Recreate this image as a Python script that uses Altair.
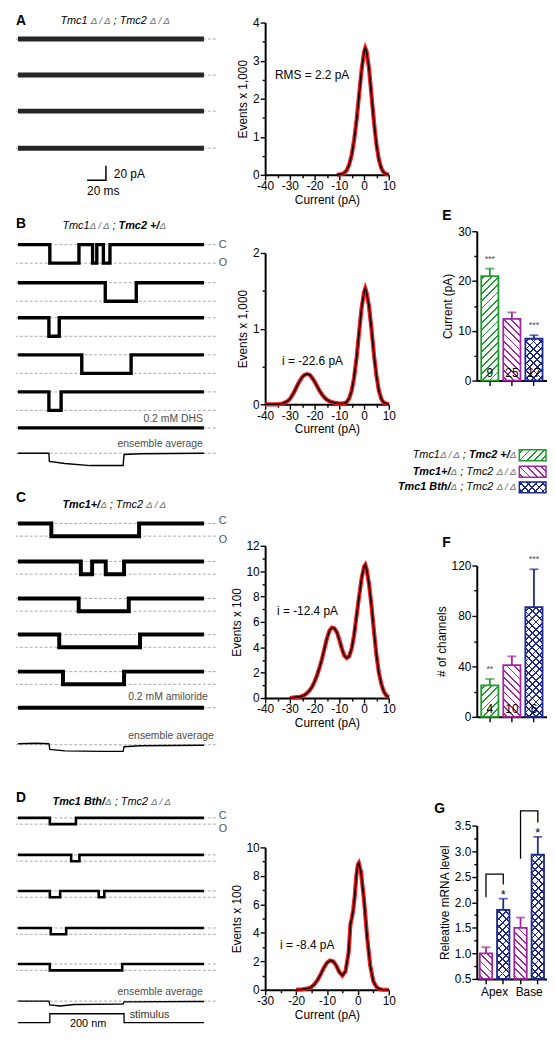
import math
import altair as alt
import pandas as pd

FONT = "Liberation Sans"

# ---------------- data ----------------
# single-channel records: transition times (ms) and current level (pA)
A_T = [[0, 198], [0, 198], [0, 198], [0, 198]]
A_I = [[0, 0], [0, 0], [0, 0], [0, 0]]

B_OPEN = -22.6
B_T = [[0, 34, 65, 79.5, 84, 91, 98, 198], [0, 93, 126, 198], [0, 33, 44, 198],
       [0, 68, 120.5, 198], [0, 33, 46, 198]]
B_I = [[0, -22.6, 0, -22.6, 0, -22.6, 0, 0], [0, -22.6, 0, 0], [0, -22.6, 0, 0],
       [0, -22.6, 0, 0], [0, -22.6, 0, 0]]
B_BLOCK_T = [0, 198]
B_BLOCK_I = [0, 0]
B_ENS_T = [0, 33, 33.5, 50, 77, 112, 113, 130, 198]
B_ENS_I = [0, 0, -10, -12.5, -15, -15, -1.5, -0.5, 0]

C_OPEN = -12.4
C_T = [[0, 35.6, 129, 198], [0, 67, 79, 93.5, 113, 198], [0, 64.7, 118, 198],
       [0, 44, 130, 198], [0, 48, 113, 198]]
C_I = [[0, -12.4, 0, 0], [0, -12.4, 0, -12.4, 0, 0], [0, -12.4, 0, 0],
       [0, -12.4, 0, 0], [0, -12.4, 0, 0]]
C_BLOCK_T = [0, 198]
C_BLOCK_I = [0, 0]
C_ENS_T = [0, 20, 33, 34, 50, 90, 112, 113, 130, 198]
C_ENS_I = [1, 1.5, 1, -4.5, -6, -6.5, -6.5, -2, -1, -0.5]

D_OPEN = -8.4
D_T = [[0, 34, 61.8, 198], [0, 56.7, 65.5, 198], [0, 34, 45, 86, 92, 198],
       [0, 35, 51.4, 198], [0, 34, 111, 198]]
D_I = [[0, -8.4, 0, 0], [0, -8.4, 0, 0], [0, -8.4, 0, -8.4, 0, 0],
       [0, -8.4, 0, 0], [0, -8.4, 0, 0]]
D_ENS_T = [0, 33, 34, 45, 60, 110, 112, 113, 198]
D_ENS_I = [0, 0, -5, -6.5, -4.5, -4, -4, -1, -0.5]

STIM_T = [0, 34, 113, 198]
STIM_NM = [0, 200, 0, 0]
SCALEBAR_T = [73.7, 93.7, 93.7]
SCALEBAR_PA = [0, 0, 20]

# amplitude histograms (current in pA, events)
HA_X = [-11, -10, -9, -8, -7, -6, -5, -4, -3, -2, -1, 0, 0.5, 1, 2, 3, 4, 5, 6, 7, 8, 9, 10]
HA_Y = [0, 0.01, 0.02, 0.05, 0.12, 0.27, 0.52, 0.92, 1.45, 2.1, 2.75, 3.22, 3.33, 3.25,
        2.8, 2.1, 1.4, 0.8, 0.4, 0.17, 0.06, 0.02, 0.01]
HB_X = [-40, -35, -33, -31, -30, -29, -28, -27, -26, -25, -24, -23, -22, -21, -20, -19, -18,
        -17, -16, -15, -14, -13, -12, -11, -10, -9, -8, -7, -6, -5, -4, -3, -2, -1, 0, 0.5,
        1, 2, 3, 4, 5, 6, 7, 8, 9, 10]
HB_Y = [0, 0, 0.01, 0.04, 0.07, 0.12, 0.18, 0.25, 0.31, 0.36, 0.39, 0.40, 0.39, 0.35, 0.30,
        0.24, 0.18, 0.13, 0.09, 0.06, 0.04, 0.03, 0.02, 0.015, 0.01, 0.01, 0.015, 0.03, 0.08,
        0.18, 0.36, 0.62, 0.95, 1.27, 1.48, 1.53, 1.48, 1.3, 1.0, 0.66, 0.38, 0.18, 0.07,
        0.02, 0.01, 0]
HC_X = [-30, -28, -26, -25, -24, -23, -22, -21, -20, -19, -18, -17, -16, -15, -14, -13, -12,
        -11, -10, -9, -8, -7, -6, -5, -4, -3, -2, -1, 0, 0.5, 1, 2, 3, 4, 5, 6, 7, 8, 9, 10]
HC_Y = [0, 0.05, 0.1, 0.15, 0.25, 0.4, 0.6, 0.9, 1.3, 1.8, 2.4, 3.1, 3.9, 4.7, 5.3, 5.55,
        5.5, 5.2, 4.6, 3.9, 3.35, 3.15, 3.3, 3.9, 5.0, 6.5, 8.0, 9.4, 10.35, 10.5, 10.2, 9.0,
        7.3, 5.3, 3.4, 2.0, 1.1, 0.5, 0.2, 0.05]
HD_X = [-20, -18, -16, -15, -14, -13, -12, -11, -10, -9, -8, -7, -6, -5, -4, -3, -2.4, -2,
        -1.5, -1, -0.5, 0, 0.3, 1, 2, 3, 4, 5, 6, 7, 8, 10]
HD_Y = [0, 0.03, 0.1, 0.2, 0.4, 0.7, 1.1, 1.55, 1.9, 2.05, 2.0, 1.7, 1.25, 1.0, 1.3, 2.6,
        4.6, 5.0, 5.6, 6.6, 8.0, 8.8, 8.9, 8.3, 6.3, 3.7, 1.7, 0.6, 0.2, 0.05, 0, 0]

# bar graphs
GENOTYPES = ["Tmc1Δ/Δ;Tmc2+/Δ", "Tmc1+/Δ;Tmc2Δ/Δ", "Tmc1Bth/Δ;Tmc2Δ/Δ"]
E_MEAN = [21.0, 12.4, 8.4]
E_ERR = [1.5, 1.3, 0.7]
E_N = ["9", "25", "17"]
E_SIG = ["***", "", "***"]
F_MEAN = [25, 41, 87]
F_ERR = [5, 7, 30]
F_N = ["4", "10", "6"]
F_SIG = ["**", "", "***"]
G_KEYS = ["Apex Tmc1+/Δ", "Apex Tmc1Bth/Δ", "Base Tmc1+/Δ", "Base Tmc1Bth/Δ"]
G_REGION = ["Apex", "Base"]
G_MEAN = [1.0, 1.85, 1.5, 2.93]
G_ERR = [0.12, 0.22, 0.2, 0.35]
G_SIG = ["", "*", "", "*"]
BR_ID = ["apex", "apex", "apex", "apex", "base", "base", "base", "base"]
BR_KEY = [G_KEYS[0], G_KEYS[0], G_KEYS[1], G_KEYS[1], G_KEYS[2], G_KEYS[2], G_KEYS[3], G_KEYS[3]]
BR_VAL = [2.1, 2.55, 2.55, 2.35, 2.85, 3.79, 3.79, 3.56]

# ---------------- styling / layout ----------------
GREEN = "#1f9a2f"
MAGENTA = "#a3259f"
NAVY = "#1f2a8e"
CLEAR = "rgba(255,255,255,0)"
DASH_C = "#a0a0a0"

SY = 0.9856


def Y(y):
    return (y - 3.0) * SY


def RY(y):
    return int(round(Y(y)))


def X1(x):
    return max(0.0, x - 8.0)


T0 = -2 / 0.95
T1 = 200 / 0.95
WT = 202
W2 = 125
W3 = 71
COL2_X = 252
COL3_X = 466

dummy = pd.DataFrame({"k": [0]})

LETTER = dict(size=14, weight="bold")
NOTE = dict(size=10.5, color="#4d4d4d", align="right")
CO = dict(size=11, color="#555555")
SCALE_TXT = dict(size=12)

# font metrics (Arial / Liberation Sans, 1/1000 em) used to lay out mixed-style titles
W_REG = {" ": 278, ";": 278, "+": 584, "/": 278, "T": 611, "m": 833, "c": 500, "1": 556,
         "2": 556, "B": 667, "t": 278, "h": 556, "Δ": 668, "\u2009": 200}
W_BOLD = {" ": 278, ";": 333, "+": 584, "/": 278, "T": 611, "m": 889, "c": 556, "1": 556,
          "2": 556, "B": 722, "t": 333, "h": 611, "Δ": 722, "\u2009": 200}
MAIN = 11
SMALL = 10
SEG = {
    "it": dict(size=MAIN, style="italic"),
    "bi": dict(size=MAIN, style="italic", weight="bold"),
    "d": dict(size=SMALL, style="italic", color="#6e6e6e"),
    "db": dict(size=SMALL, style="italic", color="#6e6e6e"),
}
DD = "Δ\u2009/\u2009Δ"
TITLES = {
    "A": [("Tmc1", "it"), (" ", "it"), (DD, "d"), (" ", "it"), ("; ", "it"), ("Tmc2", "it"), (" ", "it"), (DD, "d")],
    "B": [("Tmc1", "it"), (DD, "d"), (" ", "it"), ("; ", "it"), ("Tmc2 +/", "bi"), ("Δ", "db")],
    "C": [("Tmc1+/", "bi"), ("Δ", "db"), (" ", "it"), ("; ", "it"), ("Tmc2", "it"), (" ", "it"), (DD, "d")],
    "D": [("Tmc1 Bth/", "bi"), ("Δ", "db"), (" ", "it"), ("; ", "it"), ("Tmc2", "it"), (" ", "it"), (DD, "d")],
}
TITLE_X0 = {"A": 53, "B": 55, "C": 55, "D": 45}


def seg_width(s, st):
    table = W_BOLD if SEG[st].get("weight") == "bold" else W_REG
    return sum(table.get(ch, 556) for ch in s) * SEG[st]["size"] / 1000.0


def title_width(panel):
    return sum(seg_width(s, st) for s, st in TITLES[panel])


def title_texts(panel, y, x0=None):
    x = TITLE_X0[panel] if x0 is None else x0
    out = []
    for s, st in TITLES[panel]:
        if s.strip():
            out.append((x, y, s, SEG[st]))
        x += seg_width(s, st)
    return out


def text_mark(x, y, s, size=11, weight="normal", style="normal", color="black",
              align="left", baseline="middle"):
    return alt.Chart(dummy).mark_text(
        text=s, font=FONT, fontSize=size, fontWeight=weight, fontStyle=style,
        color=color, align=align, baseline=baseline
    ).encode(x=alt.value(x), y=alt.value(y))


def blank_layer():
    return alt.Chart(dummy).mark_point(opacity=0, size=1).encode(x=alt.value(2), y=alt.value(2))


def blank(w, h):
    return blank_layer().properties(width=w, height=h)


def trace_layers(sp, top, H):
    yc = Y(sp["yc"]) - RY(top)
    g = sp["gain"] * SY
    ysc = alt.Scale(domain=[-(H - yc) / g, yc / g], nice=False, zero=False)
    xsc = alt.Scale(domain=[T0, T1], nice=False, zero=False)
    out = []
    if sp.get("levels"):
        out.append(alt.Chart(pd.DataFrame({"lv": sp["levels"]})).mark_rule(
            color=DASH_C, strokeDash=[3, 2], strokeWidth=0.9
        ).encode(y=alt.Y("lv:Q", scale=ysc, axis=None)))
    for t, i in sp["lines"]:
        df = pd.DataFrame({"t": t, "i": i, "o": list(range(len(t)))})
        out.append(alt.Chart(df).mark_line(
            interpolate=sp.get("interp", "step-after"), color=sp.get("color", "black"),
            strokeWidth=sp["sw"]
        ).encode(x=alt.X("t:Q", scale=xsc, axis=None), y=alt.Y("i:Q", scale=ysc, axis=None),
                 order="o:Q"))
    return out


def c1_cell(top, bottom, texts=(), trace=None):
    H = RY(bottom) - RY(top)
    layers = []
    if trace is not None:
        layers += trace_layers(trace, top, H)
    for (x, y, s, st) in texts:
        layers.append(text_mark(X1(x), Y(y) - RY(top), s, **st))
    if not layers:
        layers = [blank_layer()]
    return alt.layer(*layers).properties(width=WT, height=H)


def qaxis(values, test, title, fmt=None):
    if fmt:
        lab = "(" + test + ") ? format(datum.value, '" + fmt + "') : ''"
    else:
        lab = "(" + test + ") ? toString(datum.value) : ''"
    return alt.Axis(
        values=values, title=title, labelExpr=lab,
        tickSize={"condition": {"test": test, "value": 5}, "value": 3},
        grid=False, domainColor="black", domainWidth=2, tickColor="black", tickWidth=1.4,
        labelFont=FONT, labelFontSize=12, labelColor="black", labelPadding=1,
        labelFlush=False, labelOverlap=False,
        titleFont=FONT, titleFontSize=12, titleFontWeight="normal", titleColor="black",
        titlePadding=3)


def baxis():
    return alt.Axis(labels=False, title=None, grid=False, domainColor="black", domainWidth=2,
                    tickColor="black", tickWidth=1.4, tickSize=5)


def hatch(w, h, color, kind, bg="white", period=5.2, lw=1.3):
    s = w + h
    dt = period * math.sqrt(2) / s
    lt = lw * math.sqrt(2) / s
    stops = [alt.GradientStop(color=bg, offset=0)]
    t = dt * 0.5
    while t + lt / 2 < 1:
        a = round(max(0.0, t - lt / 2), 5)
        b = round(min(1.0, t + lt / 2), 5)
        stops += [alt.GradientStop(color=bg, offset=a), alt.GradientStop(color=color, offset=a),
                  alt.GradientStop(color=color, offset=b), alt.GradientStop(color=bg, offset=b)]
        t += dt
    stops.append(alt.GradientStop(color=bg, offset=1))
    k = s / (w * w + h * h)
    if kind == "/":
        return alt.LinearGradient(gradient="linear", stops=stops, x1=0, y1=0,
                                  x2=round(k * w, 5), y2=round(k * h, 5))
    return alt.LinearGradient(gradient="linear", stops=stops, x1=0, y1=1,
                              x2=round(k * w, 5), y2=round(1 - k * h, 5))


def fills(w, h, color, kind):
    if kind == "x":
        return hatch(w, h, color, "/"), hatch(w, h, color, "\\", bg=CLEAR)
    return hatch(w, h, color, kind), None


def bar_layers(df, key, X, Yb, Yu, col, kind, w, h, base):
    src = alt.Chart(df).transform_filter(alt.datum.g == key)
    f1, f2 = fills(w, h, col, kind)
    L = [src.mark_bar(fill=f1, stroke=col, strokeWidth=1.8).encode(x=X, y=Yb, y2=alt.datum(base))]
    if f2 is not None:
        L.append(src.mark_bar(fill=f2).encode(x=X, y=Yb, y2=alt.datum(base)))
    L.append(src.mark_rule(color=col, strokeWidth=1.8).encode(x=X, y=Yb, y2="u:Q"))
    L.append(src.mark_tick(color=col, size=9, thickness=1.8).encode(x=X, y=Yu))
    return L


BAR_COLORS = [GREEN, MAGENTA, NAVY]
BAR_KINDS = ["/", "\\", "x"]


def ef_chart(top, bottom, means, errs, ns, sigs, ymax, yvals, test, title):
    H = RY(bottom) - RY(top)
    df = pd.DataFrame({"g": GENOTYPES, "m": means, "u": [a + b for a, b in zip(means, errs)],
                       "n": ns, "s": sigs})
    pi = 0.22
    step = (W3 - 9) / (3 - pi)
    po = 4.5 / step
    bw = step * (1 - pi)
    X = alt.X("g:N", scale=alt.Scale(domain=GENOTYPES, paddingInner=pi, paddingOuter=po), axis=baxis())
    yax = qaxis(yvals, test, title)
    ysc = alt.Scale(domain=[0, ymax], nice=False, zero=False)
    Yb = alt.Y("m:Q", scale=ysc, axis=yax)
    Yu = alt.Y("u:Q", scale=ysc, axis=yax)
    layers = []
    for k, m, col, kind in zip(GENOTYPES, means, BAR_COLORS, BAR_KINDS):
        layers += bar_layers(df, k, X, Yb, Yu, col, kind, bw, m * H / ymax, 0)
    layers.append(alt.Chart(df).mark_text(font=FONT, fontSize=12, color="black", baseline="bottom",
                                          dy=-1).encode(x=X, y=alt.value(H), text="n:N"))
    layers.append(alt.Chart(df).mark_text(font=FONT, fontSize=9, color="#555555", baseline="bottom",
                                          dy=-5).encode(x=X, y=Yu, text="s:N"))
    return alt.layer(*layers).properties(width=W3, height=H)


def g_chart(top, bottom):
    H = RY(bottom) - RY(top)
    df = pd.DataFrame({"g": G_KEYS, "m": G_MEAN, "u": [a + b for a, b in zip(G_MEAN, G_ERR)],
                       "s": G_SIG})
    pi = 0.28
    step = (W3 - 6) / (4 - pi)
    po = 3 / step
    bw = step * (1 - pi)
    X = alt.X("g:N", scale=alt.Scale(domain=G_KEYS, paddingInner=pi, paddingOuter=po), axis=baxis())
    yvals = [0.5 + 0.25 * i for i in range(13)]
    yax = qaxis(yvals, "abs(datum.value * 2 - round(datum.value * 2)) < 0.01",
                "Releative mRNA level", fmt=".1f")
    ysc = alt.Scale(domain=[0.5, 3.5], nice=False, zero=False)
    Yb = alt.Y("m:Q", scale=ysc, axis=yax)
    Yu = alt.Y("u:Q", scale=ysc, axis=yax)
    layers = []
    for k, m, col, kind in zip(G_KEYS, G_MEAN, [MAGENTA, NAVY, MAGENTA, NAVY], ["\\", "x", "\\", "x"]):
        layers += bar_layers(df, k, X, Yb, Yu, col, kind, bw, (m - 0.5) * H / 3.0, 0.5)
    br = pd.DataFrame({"b": BR_ID, "g": BR_KEY, "v": BR_VAL, "o": list(range(len(BR_ID)))})
    layers.append(alt.Chart(br).mark_line(color="black", strokeWidth=1.3).encode(
        x=X, y=alt.Y("v:Q", scale=ysc, axis=yax), detail="b:N", order="o:Q"))
    layers.append(alt.Chart(df).mark_text(font=FONT, fontSize=13, color="black", baseline="middle",
                                          dy=-4).encode(x=X, y=Yu, text="s:N"))
    lab = pd.DataFrame({"g": [G_KEYS[0], G_KEYS[2]], "r": G_REGION})
    layers.append(alt.Chart(lab).mark_text(font=FONT, fontSize=12, color="black", baseline="middle",
                                           dx=step / 2).encode(x=X, y=alt.value(H + 13), text="r:N"))
    return alt.layer(*layers).properties(width=W3, height=H)


def hist_cell(top, bottom, xs, ys, xdom, xvals, ydom, yvals, ytest, ytitle, note, nx, ny):
    H = RY(bottom) - RY(top)
    df = pd.DataFrame({"x": xs, "y": ys})
    X = alt.X("x:Q", scale=alt.Scale(domain=xdom, nice=False, zero=False),
              axis=qaxis(xvals, "datum.value % 10 === 0", "Current (pA)"))
    Yq = alt.Y("y:Q", scale=alt.Scale(domain=ydom, nice=False, zero=False),
               axis=qaxis(yvals, ytest, ytitle))
    red = alt.Chart(df).mark_line(color="#ff1a1a", strokeWidth=4.2).encode(x=X, y=Yq)
    blk = alt.Chart(df).mark_line(color="black", strokeWidth=1.6).encode(x=X, y=Yq)
    nt = text_mark(nx - 260, Y(ny) - RY(top), note, size=12)
    return alt.layer(red, blk, nt).properties(width=W2, height=H)


# ---------------- column 1: records ----------------
cells1 = [c1_cell(3, 18, [(3, 10, "A", LETTER)] + title_texts("A", 10))]
a_tops = [18, 47, 84, 121, 152]
for k, yc in enumerate([28, 65, 102, 140]):
    cells1.append(c1_cell(a_tops[k], a_tops[k + 1],
                          trace=dict(yc=yc, gain=0.75, sw=5, color="#262626", levels=[0],
                                     lines=[(A_T[k], A_I[k])])))
cells1.append(c1_cell(152, 205, [(107, 167, "20 pA", SCALE_TXT), (80, 184, "20 ms", SCALE_TXT)],
                      trace=dict(yc=173, gain=0.75, sw=1.5, levels=[],
                                 lines=[(SCALEBAR_T, SCALEBAR_PA)], interp="linear")))

cells1.append(c1_cell(205, 229, [(3, 218, "B", LETTER)] + title_texts("B", 220)))
b_tops = [229, 268, 304, 342, 380, 414]
b_yc = [239, 278, 314, 352, 390]
for k in range(5):
    tx = [(213, 239, "C", CO), (213, 258, "O", CO)] if k == 0 else []
    cells1.append(c1_cell(b_tops[k], b_tops[k + 1], tx,
                          trace=dict(yc=b_yc[k], gain=0.84, sw=3.4, levels=[0, B_OPEN],
                                     lines=[(B_T[k], B_I[k])])))
cells1.append(c1_cell(414, 438, [(197, 418, "0.2 mM DHS", NOTE)],
                      trace=dict(yc=427, gain=0.84, sw=3.4, levels=[0], lines=[(B_BLOCK_T, B_BLOCK_I)])))
cells1.append(c1_cell(438, 480, [(197, 444, "ensemble average", NOTE)],
                      trace=dict(yc=453, gain=0.84, sw=1.4, levels=[0], lines=[(B_ENS_T, B_ENS_I)],
                                 interp="linear")))

cells1.append(c1_cell(480, 515, [(3, 499, "C", LETTER)] + title_texts("C", 506)))
c_tops = [515, 553, 591, 628, 666, 698]
c_yc = [525, 564, 602, 639, 677]
for k in range(5):
    tx = [(213, 523, "C", CO), (213, 542, "O", CO)] if k == 0 else []
    cells1.append(c1_cell(c_tops[k], c_tops[k + 1], tx,
                          trace=dict(yc=c_yc[k], gain=1.05, sw=4, levels=[0, C_OPEN],
                                     lines=[(C_T[k], C_I[k])])))
cells1.append(c1_cell(698, 730, [(202, 703, "0.2 mM amiloride", NOTE)],
                      trace=dict(yc=714, gain=1.05, sw=4, levels=[0], lines=[(C_BLOCK_T, C_BLOCK_I)])))
cells1.append(c1_cell(730, 775, [(208, 743, "ensemble average", NOTE)],
                      trace=dict(yc=752, gain=1.05, sw=1.4, levels=[0], lines=[(C_ENS_T, C_ENS_I)],
                                 interp="linear")))

cells1.append(c1_cell(775, 818, [(3, 807, "D", LETTER)] + title_texts("D", 811)))
d_tops = [818, 848, 886, 922, 960, 996]
d_yc = [827, 865, 902, 940, 977]
for k in range(5):
    tx = [(213, 825, "C", CO), (213, 838, "O", CO)] if k == 0 else []
    cells1.append(c1_cell(d_tops[k], d_tops[k + 1], tx,
                          trace=dict(yc=d_yc[k], gain=0.77, sw=2.6, levels=[0, D_OPEN],
                                     lines=[(D_T[k], D_I[k])])))
cells1.append(c1_cell(996, 1022, [(197, 1006, "ensemble average", NOTE)],
                      trace=dict(yc=1015, gain=0.77, sw=1.4, levels=[0], lines=[(D_ENS_T, D_ENS_I)],
                                 interp="linear")))
cells1.append(c1_cell(1022, 1045, [(81, 1039, "200 nm", dict(size=11, align="center")),
                                   (123, 1029, "stimulus", dict(size=11, color="#333333"))],
                      trace=dict(yc=1037, gain=0.045, sw=1.3, levels=[], lines=[(STIM_T, STIM_NM)])))

# ---------------- column 2: histograms ----------------
xa = list(range(-40, 11, 5))
xd = list(range(-30, 11, 5))
cells2 = [
    blank(W2, RY(11) - RY(3)),
    hist_cell(11, 167, HA_X, HA_Y, [-40, 10], xa, [0, 4], [i * 0.5 for i in range(9)],
              "datum.value % 1 === 0", "Events x 1,000", "RMS = 2.2 pA", 270, 65),
    blank(W2, RY(248) - RY(167)),
    hist_cell(248, 403, HB_X, HB_Y, [-40, 10], xa, [0, 2], [i * 0.5 for i in range(5)],
              "datum.value % 1 === 0", "Events x 1,000", "i = -22.6 pA", 277, 358),
    blank(W2, RY(548) - RY(403)),
    hist_cell(548, 704, HC_X, HC_Y, [-40, 10], xa, [0, 12], list(range(13)),
              "datum.value % 2 === 0", "Events x 100", "i = -12.4 pA", 272, 615),
    blank(W2, RY(857) - RY(704)),
    hist_cell(857, 1003, HD_X, HD_Y, [-30, 10], xd, [0, 10], list(range(11)),
              "datum.value % 2 === 0", "Events x 100", "i = -8.4 pA", 275, 957),
]


# ---------------- column 3: bar graphs ----------------
def c3_cell(top, bottom, texts=(), swatches=()):
    H = RY(bottom) - RY(top)
    layers = [text_mark(x - 478, Y(y) - RY(top), s, **st) for (x, y, s, st) in texts]
    for (ly, col, kind) in swatches:
        yl = Y(ly) - RY(top)
        f1, f2 = fills(27, 11, col, kind)
        enc = dict(x=alt.value(W3 - 28), x2=alt.value(W3 - 1), y=alt.value(yl - 5.5),
                   y2=alt.value(yl + 5.5))
        layers.append(alt.Chart(dummy).mark_rect(fill=f1, stroke=col, strokeWidth=1.5).encode(**enc))
        if f2 is not None:
            layers.append(alt.Chart(dummy).mark_rect(fill=f2).encode(**enc))
    if not layers:
        layers = [blank_layer()]
    return alt.layer(*layers).properties(width=W3, height=H)


LEG_Y = [455, 472, 488]
LEG_END = 518
leg_texts = []
for p, ly in zip(["B", "C", "D"], LEG_Y):
    leg_texts += title_texts(p, ly, x0=LEG_END - title_width(p))
leg_texts.append((443, 545, "F", LETTER))

cells3 = [
    c3_cell(3, 225, [(443, 210, "E", LETTER)]),
    ef_chart(225, 378, E_MEAN, E_ERR, E_N, E_SIG, 30, list(range(0, 31, 5)),
             "datum.value % 10 === 0", "Current (pA)"),
    c3_cell(378, 568, leg_texts, [(LEG_Y[0], GREEN, "/"), (LEG_Y[1], MAGENTA, "\\"), (LEG_Y[2], NAVY, "x")]),
    ef_chart(568, 723, F_MEAN, F_ERR, F_N, F_SIG, 120, list(range(0, 121, 20)),
             "datum.value % 40 === 0", "# of channels"),
    c3_cell(723, 835, [(435, 818, "G", LETTER)]),
    g_chart(835, 992),
]

col1 = alt.vconcat(*cells1, spacing=0, bounds="flush")
col2 = alt.vconcat(*cells2, spacing=0, bounds="flush")
col3 = alt.vconcat(*cells3, spacing=0, bounds="flush")

chart = alt.hconcat(
    col1, blank(COL2_X, 1), col2, blank(COL3_X - COL2_X, 1), col3, spacing=0, bounds="flush"
).properties(padding=0, background="white").configure_view(strokeWidth=0)

chart.save("out.html", embed_options={"renderer": "svg", "actions": False})
